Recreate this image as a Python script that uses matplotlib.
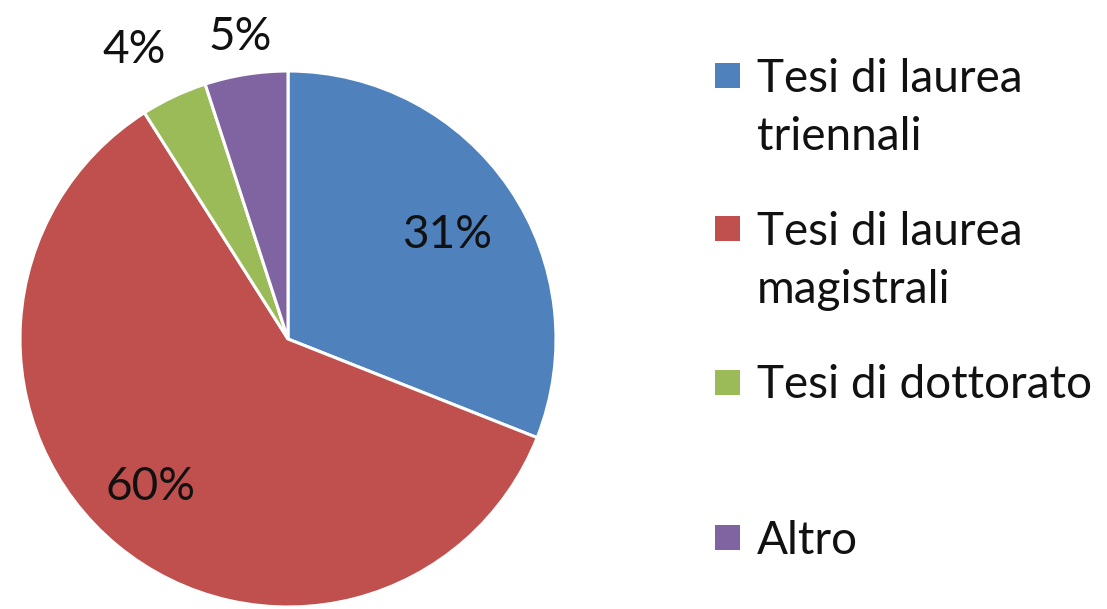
import matplotlib
matplotlib.use('Agg')
import matplotlib.pyplot as plt
from matplotlib.patches import Rectangle
import numpy as np

categories = ["Tesi di laurea\ntriennali", "Tesi di laurea\nmagistrali", "Tesi di dottorato", "Altro"]
values = [31, 60, 4, 5]
pct_labels = ["31%", "60%", "4%", "5%"]
colors = ["#4F81BD", "#C0504D", "#9BBB59", "#8064A2"]

plt.rcParams['font.family'] = ['Lato', 'DejaVu Sans']

W, H = 1107, 609
fig = plt.figure(figsize=(W / 100, H / 100), dpi=100)
cx, cy, r = 288, 339, 268
ax = fig.add_axes([(cx - r) / W, (H - cy - r) / H, 2 * r / W, 2 * r / H])
wedges, _ = ax.pie(values, colors=colors, startangle=90, counterclock=False, radius=1,
                   wedgeprops=dict(edgecolor='white', linewidth=2.2))
ax.set_xlim(-1, 1)
ax.set_ylim(-1, 1)
ax.axis('off')

FS = 33
label_dist = [0.71, 0.755, 1.22, 1.14]
angle_shift = [-1.0, -3.4, 2.8, 0.0]
for w, lab, d, s in zip(wedges, pct_labels, label_dist, angle_shift):
    a = np.deg2rad((w.theta1 + w.theta2) / 2 + s)
    ax.text(d * np.cos(a), d * np.sin(a), lab, ha='center', va='center',
            fontsize=FS, color='#111111')

# legend (drawn manually to mimic office layout)
sq_centers = [75.5, 228.5, 382, 537]
sq = 25
line_gap = 58
for cat, col, yc in zip(categories, colors, sq_centers):
    fig.add_artist(Rectangle((715 / W, 1 - (yc + sq / 2) / H), sq / W, sq / H,
                             transform=fig.transFigure, facecolor=col, edgecolor='none'))
    for i, line in enumerate(cat.split("\n")):
        yb = yc + 16.5 + i * line_gap
        fig.text(757 / W, 1 - yb / H, line, ha='left', va='baseline',
                 fontsize=FS, color='#111111')

fig.savefig('out.png', dpi=100)
